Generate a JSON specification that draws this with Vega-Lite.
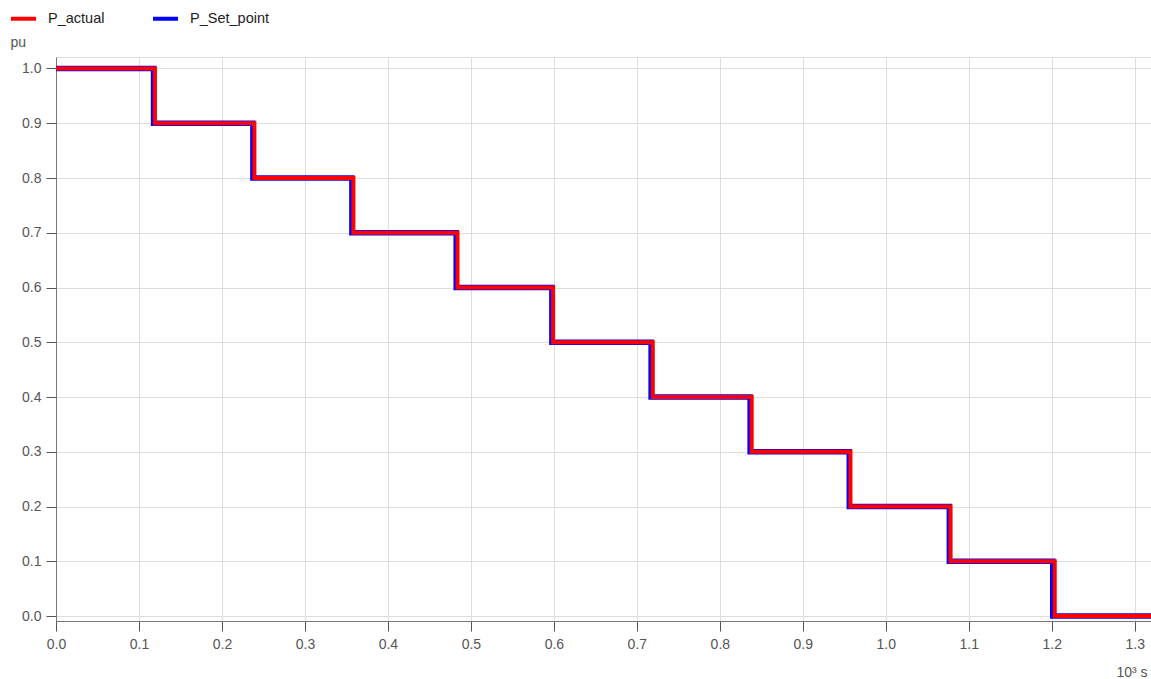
{
  "$schema": "https://vega.github.io/schema/vega-lite/v6.json",
  "autosize": "none",
  "width": 1095,
  "height": 564,
  "padding": {"left": 56, "top": 57, "right": 0, "bottom": 58},
  "background": "white",
  "config": {
    "font": "Liberation Sans",
    "view": {"stroke": "#dddddd", "strokeWidth": 1},
    "axis": {
      "labelFont": "Liberation Sans",
      "titleFont": "Liberation Sans",
      "labelFontSize": 14,
      "labelColor": "#555555",
      "titleFontSize": 14,
      "titleFontWeight": "normal",
      "titleColor": "#555555",
      "gridColor": "#dddddd",
      "gridWidth": 1,
      "domainColor": "#777777",
      "tickColor": "#555555",
      "tickSize": 10
    },
    "legend": {
      "labelFont": "Liberation Sans",
      "labelFontSize": 14.5,
      "labelColor": "#222222"
    }
  },
  "data": {
    "values": [
      {"t": 0.0, "v": 1.0, "series": "P_Set_point"},
      {"t": 0.1176, "v": 0.9, "series": "P_Set_point"},
      {"t": 0.2373, "v": 0.8, "series": "P_Set_point"},
      {"t": 0.3566, "v": 0.7, "series": "P_Set_point"},
      {"t": 0.4823, "v": 0.6, "series": "P_Set_point"},
      {"t": 0.5976, "v": 0.5, "series": "P_Set_point"},
      {"t": 0.7172, "v": 0.4, "series": "P_Set_point"},
      {"t": 0.8365, "v": 0.3, "series": "P_Set_point"},
      {"t": 0.956, "v": 0.2, "series": "P_Set_point"},
      {"t": 1.0766, "v": 0.1, "series": "P_Set_point"},
      {"t": 1.2012, "v": 0.0, "series": "P_Set_point"},
      {"t": 1.3196, "v": 0.0, "series": "P_Set_point"},
      {"t": 0.0, "v": 1.0, "series": "P_actual"},
      {"t": 0.1192, "v": 0.9, "series": "P_actual"},
      {"t": 0.2391, "v": 0.8, "series": "P_actual"},
      {"t": 0.3584, "v": 0.7, "series": "P_actual"},
      {"t": 0.4839, "v": 0.6, "series": "P_actual"},
      {"t": 0.5991, "v": 0.5, "series": "P_actual"},
      {"t": 0.7192, "v": 0.4, "series": "P_actual"},
      {"t": 0.8384, "v": 0.3, "series": "P_actual"},
      {"t": 0.9574, "v": 0.2, "series": "P_actual"},
      {"t": 1.078, "v": 0.1, "series": "P_actual"},
      {"t": 1.2036, "v": 0.0, "series": "P_actual"},
      {"t": 1.3196, "v": 0.0, "series": "P_actual"}
    ]
  },
  "encoding": {
    "x": {
      "field": "t",
      "type": "quantitative",
      "scale": {"domain": [0, 1.3196], "nice": false, "zero": false},
      "axis": {
        "values": [0, 0.1, 0.2, 0.3, 0.4, 0.5, 0.6, 0.7, 0.8, 0.9, 1.0, 1.1, 1.2, 1.3],
        "format": ".1f",
        "labelPadding": 6,
        "title": "10³ s",
        "titleX": 1091,
        "titleY": 51,
        "titleAlign": "right",
        "titleBaseline": "middle",
        "labelFlush": false
      }
    },
    "y": {
      "field": "v",
      "type": "quantitative",
      "scale": {"domain": [-0.009, 1.021], "nice": false, "zero": false},
      "axis": {
        "values": [0, 0.1, 0.2, 0.3, 0.4, 0.5, 0.6, 0.7, 0.8, 0.9, 1.0],
        "format": ".1f",
        "labelPadding": 5,
        "title": "pu",
        "titleAngle": 0,
        "titleX": -46,
        "titleY": -15,
        "titleAlign": "left",
        "titleBaseline": "middle",
        "labelFlush": false
      }
    },
    "color": {
      "field": "series",
      "type": "nominal",
      "scale": {"domain": ["P_actual", "P_Set_point"], "range": ["#ff0000", "#0000ff"]},
      "legend": {
        "title": null,
        "orient": "none",
        "direction": "horizontal",
        "legendX": -47,
        "legendY": -53,
        "symbolType": "stroke",
        "symbolSize": 625,
        "symbolStrokeWidth": 4,
        "labelOffset": 10,
        "columnPadding": 40
      }
    }
  },
  "layer": [
    {
      "transform": [{"filter": "datum.series === 'P_Set_point'"}],
      "mark": {"type": "line", "interpolate": "step-after", "strokeWidth": 5.5}
    },
    {
      "transform": [{"filter": "datum.series === 'P_actual'"}],
      "mark": {"type": "line", "interpolate": "step-after", "strokeWidth": 4}
    }
  ]
}
